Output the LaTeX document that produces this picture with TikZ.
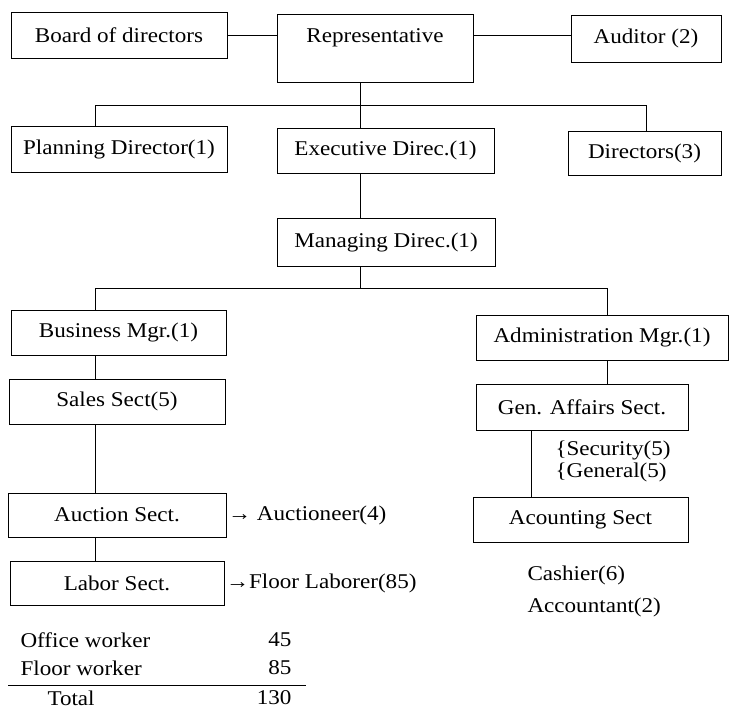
\documentclass[tikz,border=0pt]{standalone}
\usepackage{fontspec}
\setmainfont{Liberation Serif}[FakeStretch=1.1]
\usepackage{tikz}

\tikzset{box/.style={draw, line width=1pt, inner sep=0pt}}

\begin{document}
\begin{tikzpicture}[x=1pt, y=-1pt, font=\fontsize{21}{24}\selectfont, line width=1pt]
\useasboundingbox (0,0) rectangle (729,710);
\node (brd) at (119,35) [box, minimum width=216pt, minimum height=46pt] {Board of directors};
\node (rep) at (375,48) [box, minimum width=196pt, text height=28pt, text depth=40pt] {Representative};
\node (aud) at (646,38.5) [box, minimum width=150pt, minimum height=47pt] {Auditor (2)};
\draw (brd.east) -- (brd.east -| rep.west);
\draw (brd.east -| rep.east) -- (brd.east -| aud.west);
	\node (pla) at (119,149) [box, minimum width=216pt, minimum height=46pt] {Planning Director(1)};
	\node (exe) at (385.5,150.5) [box, minimum width=217pt, minimum height=45pt] {Executive Direc.(1)};
	\node (dir) at (644.5,153) [box, minimum width=153pt, minimum height=44pt] {Directors(3)};
	\coordinate (t1) at (360,105);
	\coordinate (t1l) at (95,105);
	\coordinate (t1r) at (646,105);
	\draw (t1 |- rep.south) -- (t1 |- exe.north);
	\draw (t1l) -- (t1r);
	\draw (t1l) -- (t1l |- pla.north);
	\draw (t1r) -- (t1r |- dir.north);
		\node (mng) at (386,242) [box, minimum width=218pt, minimum height=48pt] {Managing Direc.(1)};
		\draw (t1 |- exe.south) -- (t1 |- mng.north);
		\coordinate (t2) at (360,288);
		\coordinate (t2l) at (95,288);
		\coordinate (t2r) at (607,288);
		\draw (t1 |- mng.south) -- (t2);
		\draw (t2l) -- (t2r);
			\node (bus) at (118.5,332.5) [box, minimum width=215pt, minimum height=45pt] {Business Mgr.(1)};
			\node (sal) at (117,401.5) [box, minimum width=216pt, minimum height=45pt] {Sales Sect(5)};
			\node (auc) at (117,515) [box, minimum width=218pt, minimum height=44pt] {Auction Sect.};
			\node (lab) at (117,583) [box, minimum width=214pt, minimum height=44pt] {Labor Sect.};
			\draw (t2l) -- (t2l |- bus.north);
			\draw (t2l |- bus.south) -- (t2l |- sal.north);
			\draw (t2l |- sal.south) -- (t2l |- auc.north);
			\draw (t2l |- auc.south) -- (t2l |- lab.north);
			\node (auct) at (auc.east) [anchor=west, inner sep=1pt] {→ Auctioneer(4)};
			\node (flr) at (lab.east) [anchor=west, inner sep=1pt] {→Floor Laborer(85)};
			\node (adm) at (602,337.5) [box, minimum width=252pt, minimum height=45pt] {Administration Mgr.(1)};
			\node (gen) at (582,407) [box, minimum width=212pt, minimum height=46pt] {Gen. Affairs Sect.};
			\node (acc) at (580.5,519.5) [box, minimum width=215pt, minimum height=45pt] {Acounting Sect};
			\coordinate (t3) at (531,460);
			\draw (t2r) -- (t2r |- adm.north);
			\draw (t2r |- adm.south) -- (t2r |- gen.north);
			\draw (t3 |- gen.south) -- (t3 |- acc.north);
			\node (sec) at (555,461) [anchor=west, align=left, inner sep=0pt, font=\fontsize{21}{22}\selectfont] {\{Security(5)\\\{General(5)};
			\node (csh) at (527,575) [anchor=west, inner sep=0pt] {Cashier(6)};
			\node (acn) at (527,607) [anchor=west, inner sep=0pt] {Accountant(2)};
\node (ofw) at (20,640) [anchor=west, inner sep=0pt] {Office worker};
\node (ofn) at (292,640) [anchor=east, inner sep=0pt] {45};
\node (flw) at (20,668) [anchor=west, inner sep=0pt] {Floor worker};
\node (fln) at (292,668) [anchor=east, inner sep=0pt] {85};
\draw (8,685) -- (306,685);
\node (tot) at (47,698) [anchor=west, inner sep=0pt] {Total};
\node (totn) at (292,698) [anchor=east, inner sep=0pt] {130};
\end{tikzpicture}
\end{document}
